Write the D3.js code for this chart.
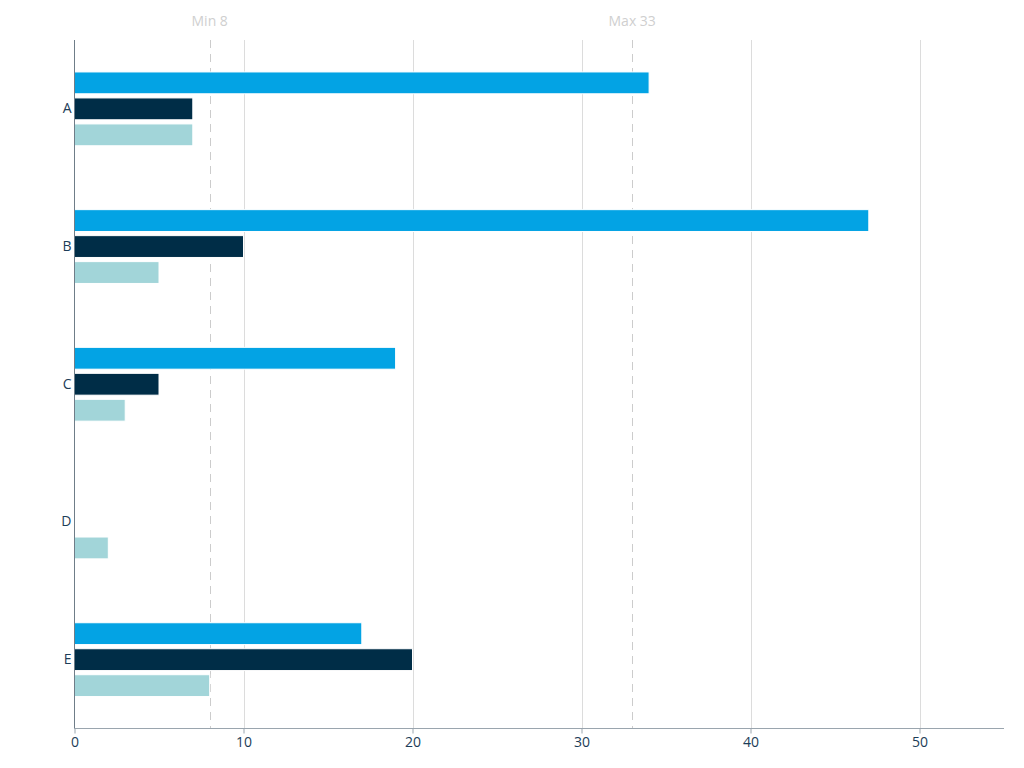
<!DOCTYPE html>
<html><head><meta charset="utf-8">
<script src="https://cdn.jsdelivr.net/npm/d3@7"></script>
<style>body{margin:0;background:#fff;font-family:"Open Sans",sans-serif;}</style>
</head><body>
<svg id="c" width="1024" height="768"></svg>
<script>
const categories = ["A","B","C","D","E"];
const seriesNames = ["s1","s2","s3"];
const series1 = [34,47,19,0,17];
const series2 = [7,10,5,0,20];
const series3 = [7,5,3,2,8];
const colors = ["#03a3e4","#002d47","#a2d5d9"];
const xTicks = [0,10,20,30,40,50];
const refLines = [{label:"Min 8", value:8},{label:"Max 33", value:33}];

(function(){
const svg = d3.select("#c");
const mLeft = 74.5, mRight = 1004, mTop = 40, mBottom = 728.5;
const x = d3.scaleLinear().domain([0,55]).range([mLeft,mRight]);
const y = d3.scaleBand().domain(categories).range([mTop,mBottom]).paddingInner(0.464).paddingOuter(0.232);
const ySub = d3.scaleBand().domain(seriesNames).range([0,y.bandwidth()]).paddingInner(0.16);

// gridlines
svg.append("g").selectAll("line").data(xTicks.filter(d=>d>0)).join("line")
  .attr("x1",d=>Math.round(x(d))+0.5).attr("x2",d=>Math.round(x(d))+0.5)
  .attr("y1",mTop).attr("y2",mBottom).attr("stroke","#dcdcdc").attr("stroke-width",1);

// reference lines
const ref = svg.append("g");
ref.selectAll("line").data(refLines).join("line")
  .attr("x1",d=>Math.round(x(d.value))+0.5).attr("x2",d=>Math.round(x(d.value))+0.5)
  .attr("y1",mTop).attr("y2",mBottom).attr("stroke","#cccccc").attr("stroke-width",1)
  .attr("stroke-dasharray","8,6");
ref.selectAll("text").data(refLines).join("text")
  .attr("x",d=>x(d.value)).attr("y",26).attr("text-anchor","middle")
  .attr("font-size",14).attr("fill","#cfcfcf").text(d=>d.label);

// bars
const data = categories.map((c,i)=>({cat:c, vals:[series1[i],series2[i],series3[i]]}));
const groups = svg.append("g").selectAll("g").data(data).join("g")
  .attr("transform",d=>`translate(0,${y(d.cat)})`);
groups.selectAll("rect").data(d=>d.vals.map((v,j)=>({v,j})).filter(e=>e.v>0)).join("rect")
  .attr("x",x(0)).attr("y",d=>ySub(seriesNames[d.j]))
  .attr("width",d=>x(d.v)-x(0)).attr("height",ySub.bandwidth())
  .attr("fill",d=>colors[d.j]).attr("stroke","#fff").attr("stroke-width",1);

// x axis
const xAxis = svg.append("g").attr("transform",`translate(0,${mBottom})`)
  .call(d3.axisBottom(x).tickValues(xTicks).tickSize(5).tickPadding(4).tickFormat(d3.format("d")));
xAxis.select(".domain").attr("stroke","#9aa5ae").attr("d",`M${mLeft},0H${mRight}`);
xAxis.selectAll(".tick line").attr("stroke","#9aa5ae");
xAxis.selectAll("text").attr("font-size",14).attr("fill","#1c3d58").attr("font-family","Open Sans");

// y axis
const yAxis = svg.append("g").attr("transform",`translate(${mLeft},0)`)
  .call(d3.axisLeft(y).tickSize(0).tickPadding(3));
yAxis.select(".domain").attr("stroke","#6f7d88").attr("d",`M0,${mTop}V${mBottom}`);
yAxis.selectAll("text").attr("font-size",14).attr("fill","#1c3d58").attr("font-family","Open Sans");
})();
</script>
</body></html>
